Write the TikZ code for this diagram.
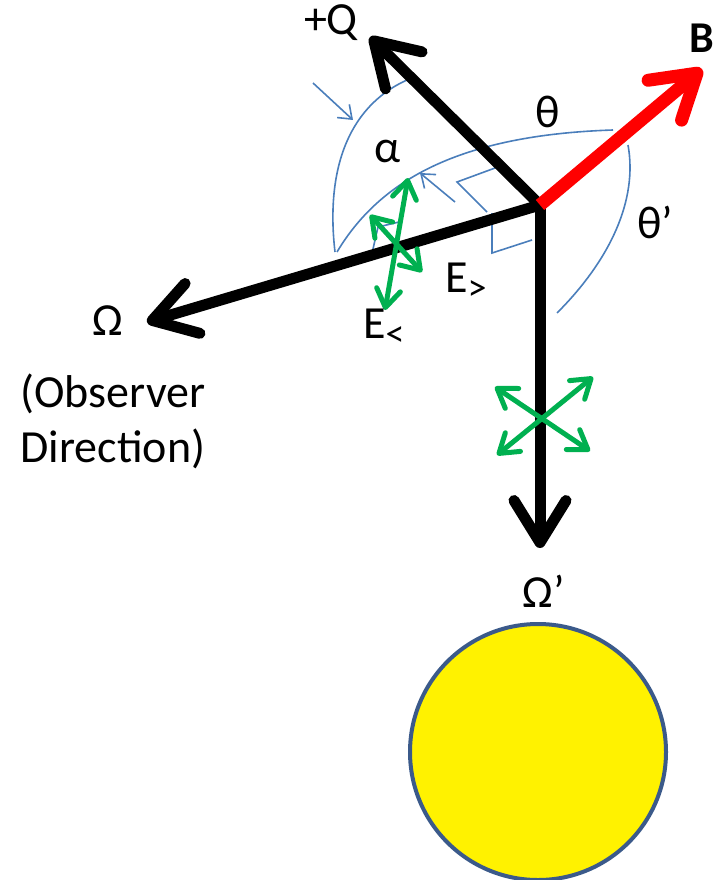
\documentclass[tikz,border=0pt]{standalone}
\usepackage{fontspec}
\setmainfont{Carlito}
\usepackage{xcolor}
\usepackage{tikz}
\usetikzlibrary{arrows.meta,calc,positioning}

\definecolor{guideblue}{HTML}{4A7EBB}
\definecolor{fieldgreen}{HTML}{00B050}
\definecolor{sunedge}{HTML}{3B5A8A}

\begin{document}
\begin{tikzpicture}[
  x=1pt, y=-1pt,
  font=\fontsize{46}{55}\selectfont,
  vec/.style={line width=11pt, -{Straight Barb[length=42pt,width=52pt,round]}},
  bvec/.style={vec, red, line width=13pt},
  efield/.style={line width=5pt, fieldgreen, {Straight Barb[length=18pt,width=24pt,round]}-{Straight Barb[length=18pt,width=24pt,round]}},
  guide/.style={line width=1.6pt, guideblue},
  pointer/.style={guide, -{Straight Barb[length=12pt,width=18pt]}},
  lbl/.style={inner sep=0pt, anchor=base}
]
\useasboundingbox (0,0) rectangle (721,880);

% vectors
\coordinate (origin) at (540,205);
\coordinate (qtip) at (370,37);
\coordinate (btip) at (702,69);
\coordinate (omtip) at (147,322);
\coordinate (omptip) at (540,548);

% angle arcs and markers
\draw[guide] (335,252) .. controls (326,175) and (345,108) .. (407,80);
\draw[guide] (337,252) .. controls (380,180) and (460,135) .. (613,130);
\draw[guide] (628,145) .. controls (638,200) and (610,260) .. (557,313);
\draw[guide] (495,168) -- (457,182) -- (487,212);
\draw[guide] (492,213) -- (492,253) -- (532,240);
\draw[guide] (373,249) -- (378,227) -- (399,222);
\coordinate (apoint) at (313,83);
\coordinate (ahit) at (353,120);
\coordinate (tpoint) at (455,202);
\coordinate (thit) at (420,173);
\draw[pointer] (apoint) -- (ahit);
\draw[pointer] (tpoint) -- (thit);

\draw[vec] (origin) -- (qtip);
\draw[vec] (origin) -- (omtip);
\draw[vec] (origin) -- (omptip);
\draw[bvec] (origin) -- (btip);

% polarisation
\coordinate (elo1) at (408,178);
\coordinate (elo2) at (385,310);
\coordinate (ehi1) at (370,215);
\coordinate (ehi2) at (422,272);
\draw[efield] (elo1) -- (elo2);
\draw[efield] (ehi1) -- (ehi2);
\coordinate (unpol1) at (495,387);
\coordinate (unpol2) at (590,451);
\coordinate (unpol3) at (593,377);
\coordinate (unpol4) at (497,455);
\draw[efield] (unpol1) -- (unpol2);
\draw[efield] (unpol3) -- (unpol4);

% sun
\node[draw=sunedge, line width=4pt, fill=yellow, circle, minimum size=256pt, inner sep=0pt] (sun) at (538,752) {};

% labels
\node[lbl] (qlabel) at (331,35) {+Q};
\node[lbl, font=\fontsize{44}{50}\selectfont\bfseries] (blabel) at (702,53) {B};
\node[lbl] (thetalabel) at (548,128) {θ};
\node[lbl] (thetaplabel) at (655,238) {θ’};
\node[lbl] (alphalabel) at (388,162) {α};
\node[lbl, anchor=base west] (egtlabel) at (445,292) {E\raisebox{-8pt}{\fontsize{38}{38}\selectfont >}};
\node[lbl, anchor=base west] (eltlabel) at (363,338) {E\raisebox{-8pt}{\fontsize{38}{38}\selectfont <}};
\node[lbl] (omlabel) at (108,335) {Ω};
\node[inner sep=0pt, align=center] (obslabel) at (113,421) {(Observer\\Direction)};
\node[lbl] (omplabel) at (544,607) {Ω’};
\end{tikzpicture}
\end{document}
